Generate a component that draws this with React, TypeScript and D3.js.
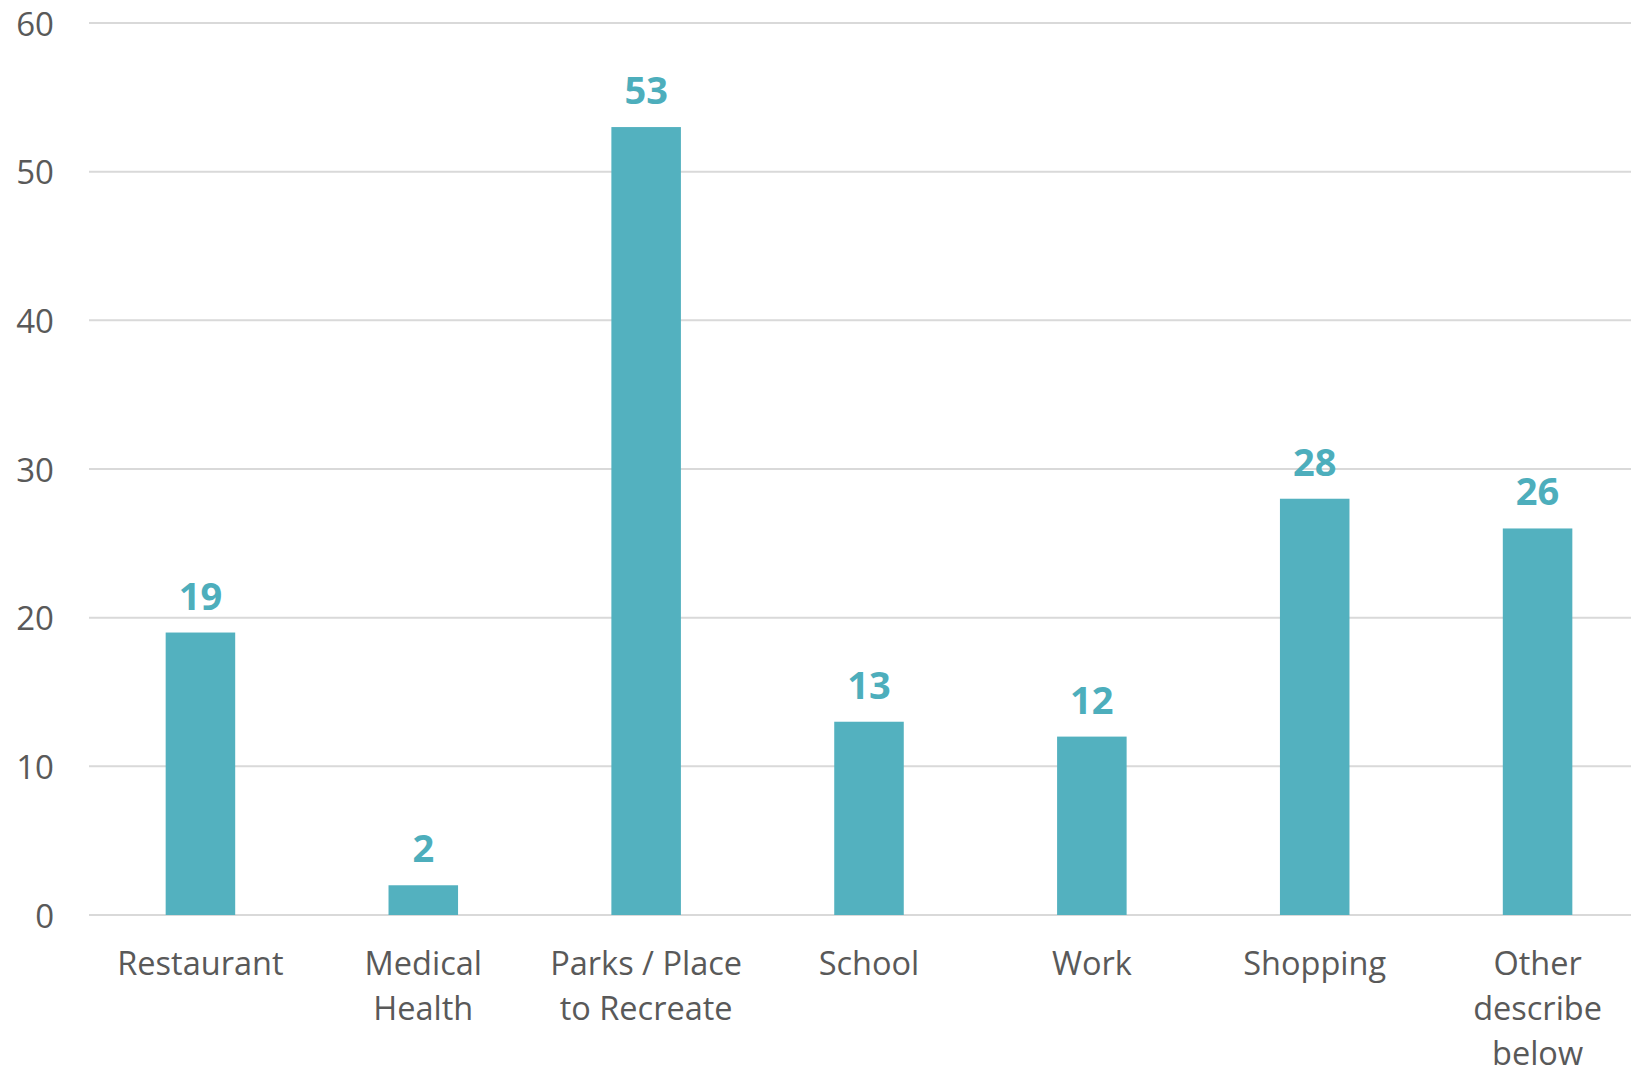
import * as d3 from 'd3'

const categories = [
    'Restaurant',
    'Medical\nHealth',
    'Parks / Place\nto Recreate',
    'School',
    'Work',
    'Shopping',
    'Other\ndescribe\nbelow',
]
const values = [19, 2, 53, 13, 12, 28, 26]
const yTicks = [0, 10, 20, 30, 40, 50, 60]

const W = 1631
const H = 1068
const barColor = '#53b1bf'
const labelColor = '#4daebc'
const textColor = '#595959'
const gridColor = '#d9d9d9'
const font = '"Open Sans", "DejaVu Sans", sans-serif'

const App = () => {
    // plot area runs past the right edge, like the cropped original
    const x = d3.scaleBand<string>()
        .domain(categories)
        .range([89, 1649])
        .paddingInner(0.688)
        .paddingOuter(0.344)

    const y = d3.scaleLinear().domain([0, 60]).range([915, 23])

    return (
        <svg width={W} height={H} style={{ position: 'absolute', left: 0, top: 0, background: '#fff' }}>
            <g className="grid">
                {yTicks.map(t => (
                    <line key={t} x1={89} x2={W} y1={y(t)} y2={y(t)} stroke={gridColor} strokeWidth={2} />
                ))}
            </g>
            <g className="y-labels" fontFamily={font} fontSize={33} fill={textColor}>
                {yTicks.map(t => (
                    <text key={t} x={54} y={y(t)} textAnchor="end" dominantBaseline="central">{t}</text>
                ))}
            </g>
            <g className="bars">
                {values.map((v, i) => (
                    <rect
                        key={categories[i]}
                        x={x(categories[i])}
                        y={y(v)}
                        width={x.bandwidth()}
                        height={y(0) - y(v)}
                        fill={barColor}
                    />
                ))}
            </g>
            <g className="values" fontFamily={font} fontSize={38} fontWeight="bold" fill={labelColor}>
                {values.map((v, i) => (
                    <text key={categories[i]} x={(x(categories[i]) ?? 0) + x.bandwidth() / 2} y={y(v) - 23} textAnchor="middle">{v}</text>
                ))}
            </g>
            <g className="x-labels" fontFamily={font} fontSize={32.5} fill={textColor}>
                {categories.map(c => (
                    <text key={c} x={(x(c) ?? 0) + x.bandwidth() / 2} y={975} textAnchor="middle">
                        {c.split('\n').map((line, j) => (
                            <tspan key={j} x={(x(c) ?? 0) + x.bandwidth() / 2} dy={j === 0 ? 0 : 45}>{line}</tspan>
                        ))}
                    </text>
                ))}
            </g>
        </svg>
    )
}

export default App
